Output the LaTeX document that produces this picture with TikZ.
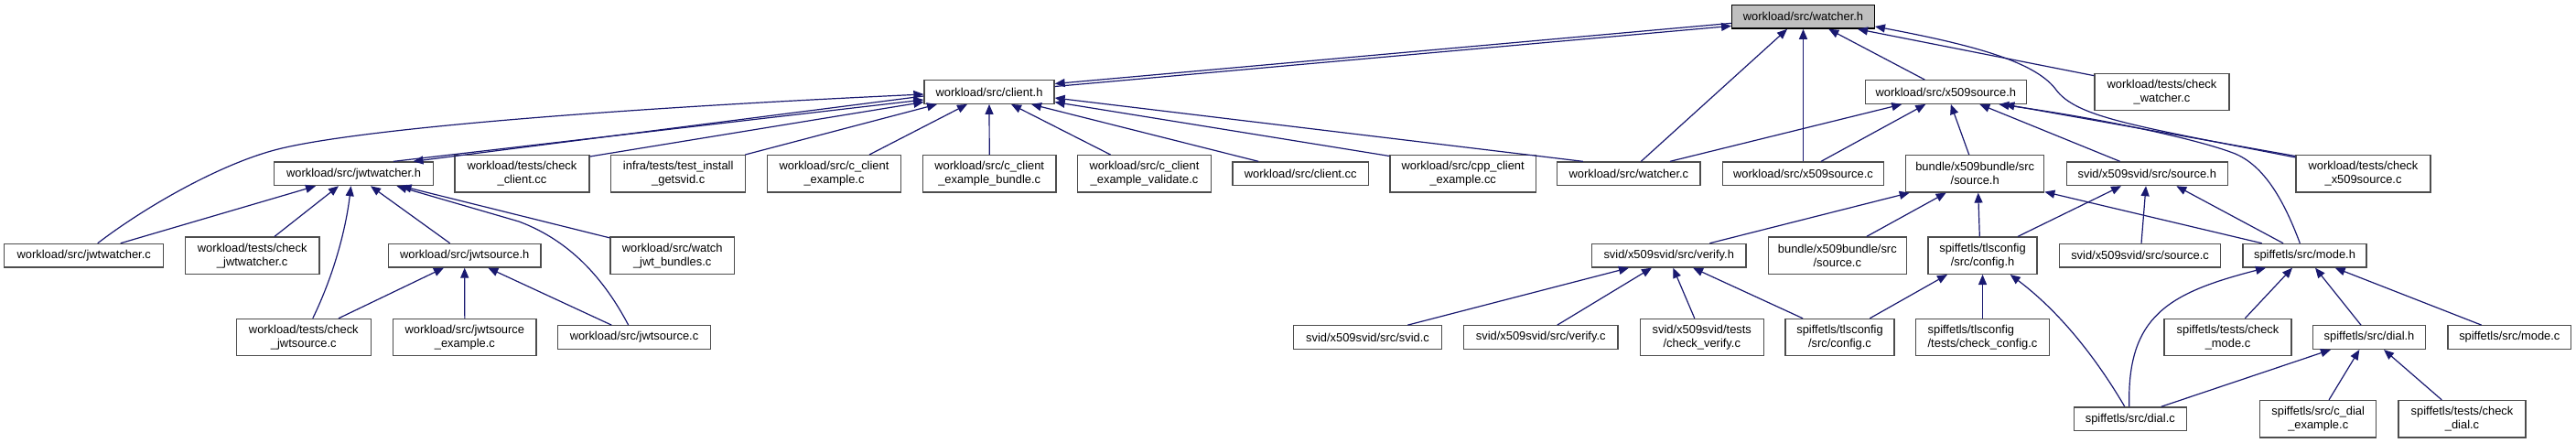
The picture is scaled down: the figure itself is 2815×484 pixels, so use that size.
\documentclass[tikz,border=0pt]{standalone}
\usepackage{fontspec}
\setmainfont{Liberation Sans}
\usetikzlibrary{arrows.meta}
\definecolor{edgeblue}{HTML}{191970}
\definecolor{boxborder}{HTML}{4D4D4D}
\definecolor{rootfill}{HTML}{BFBFBF}
\begin{document}
\begin{tikzpicture}[x=1pt,y=-1pt,
  filebox/.style={draw=boxborder, line width=1.3pt, fill=white, inner sep=0pt,
    minimum height=25.6pt, font=\fontsize{12.9}{15}\selectfont, align=center},
  filebox2/.style={filebox, minimum height=40.3pt},
  depedge/.style={draw=edgeblue, line width=1.2pt, -{Triangle[length=11pt,width=9pt]}}]
\useasboundingbox[fill=white] (0,0) rectangle (2815,484);

% row 0
\node[filebox, draw=black, fill=rootfill, minimum width=155.6pt] (wh) at (1970.5,18.35) {workload/src/watcher.h};
% row 1
\node[filebox, minimum width=142pt] (ch) at (1081,100.5) {workload/src/client.h};
\node[filebox, minimum width=176pt] (xh) at (2126.3,100.5) {workload/src/x509source.h};
\node[filebox2, minimum width=147pt] (cw) at (2362.5,100.5) {workload/tests/check\\\_watcher.c};
% row 2
\node[filebox, minimum width=173.6pt] (jh) at (386.5,189.8) {workload/src/jwtwatcher.h};
\node[filebox2, minimum width=147pt] (ccc) at (570.5,189.8) {workload/tests/check\\\_client.cc};
\node[filebox2, minimum width=147pt] (tig) at (741.2,189.8) {infra/tests/test\_install\\\_getsvid.c};
\node[filebox2, minimum width=145.6pt] (cce) at (911.5,189.8) {workload/src/c\_client\\\_example.c};
\node[filebox2, minimum width=145.7pt] (cceb) at (1081.2,189.8) {workload/src/c\_client\\\_example\_bundle.c};
\node[filebox2, minimum width=145.6pt] (ccev) at (1250.5,189.8) {workload/src/c\_client\\\_example\_validate.c};
\node[filebox, minimum width=148.3pt] (clcc) at (1421.2,189.8) {workload/src/client.cc};
\node[filebox2, minimum width=159.3pt] (cpp) at (1598.7,189.8) {workload/src/cpp\_client\\\_example.cc};
\node[filebox, minimum width=156.3pt] (wc) at (1779.9,189.8) {workload/src/watcher.c};
\node[filebox, minimum width=175.6pt] (xc) at (1970.5,189.8) {workload/src/x509source.c};
\node[filebox2, minimum width=151pt] (bsh) at (2158.2,189.8) {bundle/x509bundle/src\\/source.h};
\node[filebox, minimum width=176pt] (ssh) at (2346.3,189.8) {svid/x509svid/src/source.h};
\node[filebox2, minimum width=147pt] (cxs) at (2582.5,189.8) {workload/tests/check\\\_x509source.c};
% row 3
\node[filebox, minimum width=174pt] (jc) at (91.7,279.2) {workload/src/jwtwatcher.c};
\node[filebox2, minimum width=146.7pt] (cjw) at (275.7,279.2) {workload/tests/check\\\_jwtwatcher.c};
\node[filebox, minimum width=166.7pt] (jsh) at (507.7,279.2) {workload/src/jwtsource.h};
\node[filebox2, minimum width=135.3pt] (wjb) at (734.7,279.2) {workload/src/watch\\\_jwt\_bundles.c};
\node[filebox, minimum width=168.7pt] (vh) at (1823.7,279.2) {svid/x509svid/src/verify.h};
\node[filebox2, minimum width=151pt] (bsc) at (2007.8,279.2) {bundle/x509bundle/src\\/source.c};
\node[filebox2, minimum width=119pt] (cfh) at (2166.5,279.2) {spiffetls/tlsconfig\\/src/config.h};
\node[filebox, minimum width=176.4pt] (ssc) at (2338.5,279.2) {svid/x509svid/src/source.c};
\node[filebox, minimum width=135pt] (mh) at (2518.5,279.2) {spiffetls/src/mode.h};
% row 4
\node[filebox2, minimum width=147pt] (cjs) at (331.8,368.6) {workload/tests/check\\\_jwtsource.c};
\node[filebox2, minimum width=156.3pt] (jse) at (507.85,368.6) {workload/src/jwtsource\\\_example.c};
\node[filebox, minimum width=167.4pt] (jsc) at (693,368.6) {workload/src/jwtsource.c};
\node[filebox, minimum width=162.4pt] (sc) at (1494.5,368.6) {svid/x509svid/src/svid.c};
\node[filebox, minimum width=168.7pt] (vc) at (1683.7,368.6) {svid/x509svid/src/verify.c};
\node[filebox2, minimum width=135pt] (cv) at (1859.8,368.6) {svid/x509svid/tests\\/check\_verify.c};
\node[filebox2, minimum width=119pt] (cfc) at (2010.5,368.6) {spiffetls/tlsconfig\\/src/config.c};
\node[filebox2, minimum width=145.6pt, align=left] (ccf) at (2166.5,368.6) {spiffetls/tlsconfig\\/tests/check\_config.c};
\node[filebox2, minimum width=139pt] (cm) at (2434.5,368.6) {spiffetls/tests/check\\\_mode.c};
\node[filebox, minimum width=122.6pt] (dh) at (2589,368.6) {spiffetls/src/dial.h};
\node[filebox, minimum width=134.7pt] (mc) at (2742.3,368.6) {spiffetls/src/mode.c};
% row 5
\node[filebox, minimum width=123pt] (dc) at (2327.8,457.7) {spiffetls/src/dial.c};
\node[filebox2, minimum width=127pt] (cde) at (2533.2,457.7) {spiffetls/src/c\_dial\\\_example.c};
\node[filebox2, minimum width=139pt] (cd) at (2690.5,457.7) {spiffetls/tests/check\\\_dial.c};

% edges into watcher.h
\draw[depedge] ([yshift=6pt]ch.east) -- ([yshift=-10pt]wh.west);
\draw[depedge] ([yshift=-7pt]wh.west) -- ([yshift=9pt]ch.east);
\draw[depedge] ([xshift=13.4pt]wc.north) -- ([xshift=-17.5pt]wh.south);
\draw[depedge] (xc.north) -- (wh.south);
\draw[depedge] ([xshift=-23pt]xh.north) -- ([xshift=27.8pt]wh.south);
\draw[depedge] ([yshift=17.8pt]cw.west) -- ([xshift=59.5pt]wh.south);
\draw[depedge] ([yshift=-3pt]cxs.north west) .. controls (2330,137) and (2268,128) .. (2246,97) .. controls (2222,66) and (2150,48) .. ([yshift=-10.6pt]wh.east);

% edges into client.h
\draw[depedge] ([xshift=43.5pt]jh.north) -- ([yshift=-8.5pt]ch.west);
\draw[depedge] ([yshift=-4.5pt]ch.west) -- ([xshift=65pt]jh.north);
\draw[depedge] ([xshift=15pt]jc.north) .. controls (160,225) and (240,180) .. (300,164) .. controls (370,145) and (600,122) .. ([yshift=-2.5pt]ch.west);
\draw[depedge] ([yshift=-2pt]ccc.north east) -- ([yshift=-11pt]ch.west);
\draw[depedge] ([xshift=-1pt]tig.north east) -- ([xshift=-57pt]ch.south);
\draw[depedge] ([xshift=38.5pt]cce.north) -- ([xshift=-24pt]ch.south);
\draw[depedge] (cceb.north) -- (ch.south);
\draw[depedge] ([xshift=-37pt]ccev.north) -- ([xshift=24pt]ch.south);
\draw[depedge] ([xshift=-46pt]clcc.north) -- ([xshift=46pt]ch.south);
\draw[depedge] ([yshift=-1.5pt]cpp.north west) -- ([yshift=-11pt]ch.east);
\draw[depedge] ([xshift=-50pt]wc.north) -- ([yshift=-6.5pt]ch.east);

% edges into x509source.h
\draw[depedge] ([xshift=45pt]wc.north) -- ([xshift=-48pt]xh.south);
\draw[depedge] ([xshift=19.5pt]xc.north) -- ([xshift=-22pt]xh.south);
\draw[depedge] ([xshift=-6.5pt]bsh.north) -- ([xshift=5.5pt]xh.south);
\draw[depedge] ([xshift=-29.6pt]ssh.north) -- ([xshift=37pt]xh.south);
\draw[depedge] ([yshift=-1.5pt]cxs.north west) -- ([xshift=64pt]xh.south);
\draw[depedge] ([xshift=-5.2pt]mh.north) .. controls (2497,222) and (2475,180) .. (2440,167) .. controls (2400,152) and (2300,130) .. ([xshift=58pt]xh.south);

% edges into jwtwatcher.h
\draw[depedge] ([xshift=40pt]jc.north) -- ([xshift=-41.5pt]jh.south);
\draw[depedge] ([xshift=24.3pt]cjw.north) -- ([xshift=-16.5pt]jh.south);
\draw[depedge] ([xshift=10pt]cjs.north) .. controls (365,300) and (378,250) .. ([xshift=-3pt]jh.south);
\draw[depedge] ([xshift=-16pt]jsh.north) -- ([xshift=18.5pt]jh.south);
\draw[depedge] ([xshift=-6.3pt]jsc.north) .. controls (655,295) and (615,260) .. (567,242) -- ([xshift=47pt]jh.south);
\draw[depedge] ([yshift=-1.5pt]wjb.north west) -- ([xshift=52pt]jh.south);

% edges into jwtsource.h
\draw[depedge] ([xshift=38.2pt]cjs.north) -- ([xshift=-22.7pt]jsh.south);
\draw[depedge] (jse.north) -- (jsh.south);
\draw[depedge] ([xshift=-24.7pt]jsc.north) -- ([xshift=25.6pt]jsh.south);

% edges into verify.h
\draw[depedge] ([xshift=43.8pt]sc.north) -- ([xshift=-43.7pt]vh.south);
\draw[depedge] ([xshift=18pt]vc.north) -- ([xshift=-18.7pt]vh.south);
\draw[depedge] ([xshift=-8pt]cv.north) -- ([xshift=4.6pt]vh.south);
\draw[depedge] ([xshift=-40.5pt]cfc.north) -- ([xshift=26.3pt]vh.south);

% edges into bundle source.h
\draw[depedge] ([xshift=44.6pt]vh.north) -- ([xshift=-71.5pt]bsh.south);
\draw[depedge] ([xshift=32pt]bsc.north) -- ([xshift=-31.5pt]bsh.south);
\draw[depedge] ([xshift=-3.2pt]cfh.north) -- ([xshift=3.5pt]bsh.south);
\draw[depedge] ([xshift=-46.8pt]mh.north) -- ([yshift=1pt]bsh.south east);

% edges into svid source.h
\draw[depedge] ([xshift=38.5pt]cfh.north) -- ([xshift=-28.3pt]ssh.south);
\draw[depedge] ([xshift=1.5pt]ssc.north) -- ([xshift=-1.3pt]ssh.south);
\draw[depedge] ([xshift=-23.5pt]mh.north) -- ([xshift=32pt]ssh.south);

% edges into config.h
\draw[depedge] ([xshift=32.8pt]cfc.north) -- ([xshift=-38.5pt]cfh.south);
\draw[depedge] (ccf.north) -- (cfh.south);
\draw[depedge] ([xshift=-6pt]dc.north) .. controls (2290,390) and (2250,340) .. ([xshift=30.2pt]cfh.south);

% edges into mode.h
\draw[depedge] ([xshift=-1pt]dc.north) .. controls (2324,345) and (2370,320) .. ([xshift=-42.5pt]mh.south);
\draw[depedge] ([xshift=18.8pt]cm.north) -- ([xshift=-13.5pt]mh.south);
\draw[depedge] ([xshift=-9pt]dh.north) -- ([xshift=11.5pt]mh.south);
\draw[depedge] ([xshift=-30.6pt]mc.north) -- ([xshift=33.2pt]mh.south);

% edges into dial.h
\draw[depedge] ([xshift=34pt]dc.north) -- ([xshift=-42pt]dh.south);
\draw[depedge] ([xshift=11.8pt]cde.north) -- ([xshift=-10.7pt]dh.south);
\draw[depedge] ([xshift=-22.2pt]cd.north) -- ([xshift=16pt]dh.south);
\end{tikzpicture}
\end{document}
